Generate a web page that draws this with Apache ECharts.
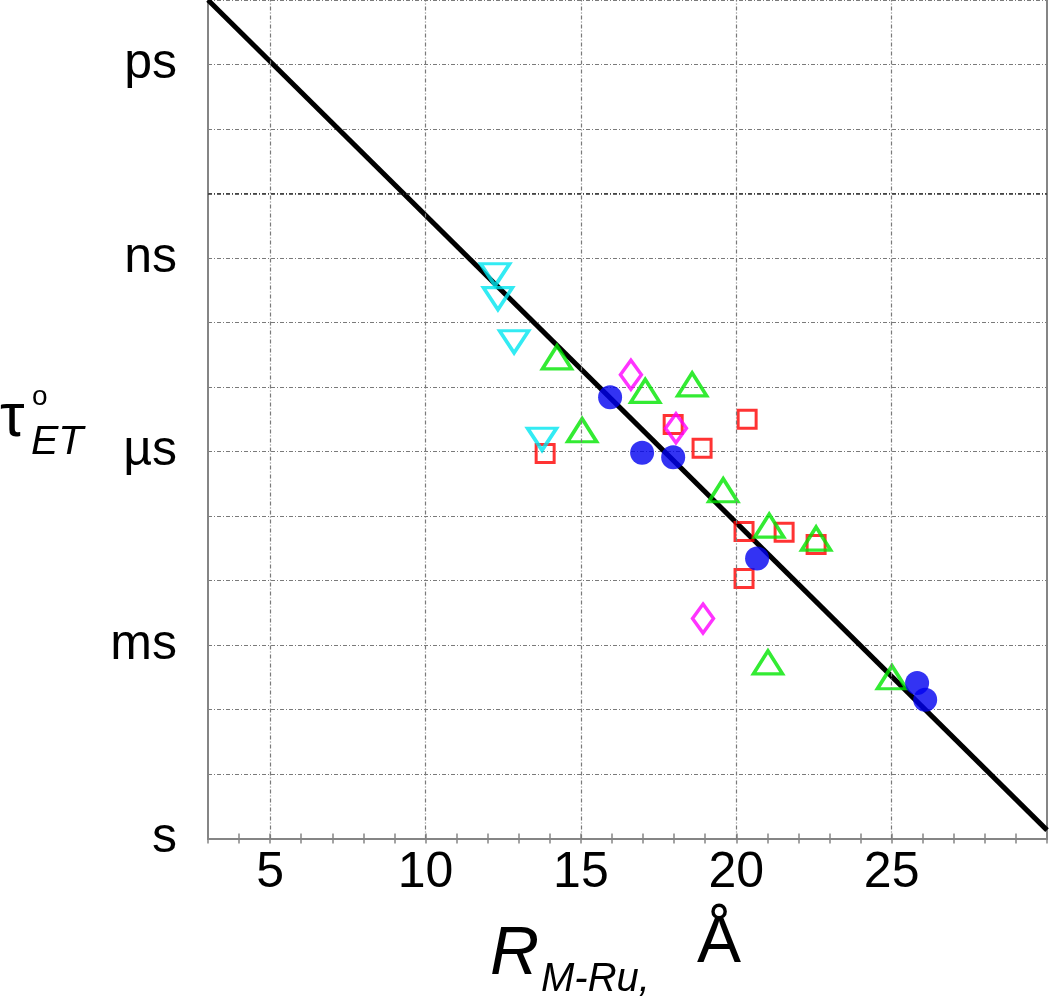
<!DOCTYPE html>
<html>
<head>
<meta charset="utf-8">
<script src="https://cdn.jsdelivr.net/npm/echarts@6/dist/echarts.min.js"></script>
<style>
html,body{margin:0;padding:0;background:#fff;}
#chart{width:1050px;height:999px;}
</style>
</head>
<body>
<div id="chart"></div>
<script>
// ---- data (R in Å, v = -log10(tau / s)) ----
const xTickValues = [5, 10, 15, 20, 25];
const yTickValues = [0, 3, 6, 9, 12];
const yTickLabels = ['s', 'ms', 'µs', 'ns', 'ps'];

const fitR = [3, 30];
const fitV = [13, 0.13];

const cyanR = [12.24, 12.33, 12.85, 13.75];
const cyanV = [8.74, 8.37, 7.70, 6.19];

const greenR = [14.23, 17.07, 18.58, 15.04, 19.58, 21.06, 22.57, 21.02, 25.01];
const greenV = [7.46, 6.94, 7.04, 6.33, 5.40, 4.85, 4.65, 2.73, 2.50];

const blueR = [15.94, 16.97, 17.97, 20.67, 25.82, 26.08];
const blueV = [6.84, 5.98, 5.91, 4.34, 2.41, 2.15];

const magentaR = [16.61, 18.06, 18.93];
const magentaV = [7.19, 6.36, 3.41];

const redR = [13.85, 17.97, 18.90, 20.35, 20.25, 21.54, 22.57, 20.25];
const redV = [5.97, 6.42, 6.05, 6.50, 4.76, 4.75, 4.56, 4.03];

const zip = (a, b) => a.map((v, i) => [v, b[i]]);

const FONT = '"Liberation Sans", Arial, sans-serif';
const AXIS_COLOR = '#858585';
const GRID_STYLE = { color: '#7a7a7a', width: 1.2, type: [4, 2, 1, 2] };

const chart = echarts.init(document.getElementById('chart'), null, { renderer: 'canvas' });

const hollow = (color, w) => ({ color: 'rgba(0,0,0,0)', borderColor: color, borderWidth: w });

chart.setOption({
  animation: false,
  backgroundColor: '#ffffff',
  grid: { left: 208, top: 0, right: 3, bottom: 160.5, containLabel: false },
  xAxis: [
    {
      type: 'value', position: 'bottom', min: 3, max: 30, interval: 1,
      axisLine: { show: true, lineStyle: { color: AXIS_COLOR, width: 2 } },
      axisTick: { show: true, inside: true, length: 5, lineStyle: { color: AXIS_COLOR, width: 1.5 } },
      axisLabel: {
        show: true, margin: 10, fontSize: 50, color: '#000', fontFamily: FONT,
        formatter: (v) => (xTickValues.indexOf(v) >= 0 ? String(v) : '')
      },
      splitLine: { show: false }
    },
    {
      type: 'value', position: 'top', min: 3, max: 30, interval: 1,
      axisLine: { show: true, lineStyle: { color: AXIS_COLOR, width: 2 } },
      axisTick: { show: true, inside: true, length: 5, lineStyle: { color: AXIS_COLOR, width: 1.5 } },
      axisLabel: { show: false },
      splitLine: { show: false }
    }
  ],
  yAxis: [
    {
      type: 'value', position: 'left', min: 0, max: 13, interval: 1,
      axisLine: { show: true, lineStyle: { color: AXIS_COLOR, width: 2 } },
      axisTick: { show: false },
      axisLabel: {
        show: true, margin: 31, fontSize: 50, color: '#000', fontFamily: FONT,
        formatter: (v) => { const i = yTickValues.indexOf(v); return i >= 0 ? yTickLabels[i] : ''; }
      },
      splitLine: { show: true, lineStyle: GRID_STYLE }
    },
    {
      type: 'value', position: 'right', min: 0, max: 13, interval: 1,
      axisLine: { show: true, lineStyle: { color: AXIS_COLOR, width: 2 } },
      axisTick: { show: false },
      axisLabel: { show: false },
      splitLine: { show: false }
    }
  ],
  series: [
    {
      type: 'line', data: [], z: 1, silent: true,
      markLine: {
        silent: true, symbol: 'none', label: { show: false },
        lineStyle: GRID_STYLE,
        data: xTickValues.map(v => ({ xAxis: v })).concat([
          { yAxis: 10, lineStyle: { color: '#333', width: 1.6, type: [4, 2, 1, 2] } }
        ])
      }
    },
    {
      type: 'line', data: zip(fitR, fitV), z: 3, showSymbol: false, symbol: 'none',
      lineStyle: { color: '#000', width: 5 }, silent: true
    },
    {
      type: 'scatter', data: zip(redR, redV), z: 4, symbol: 'rect', symbolSize: 18,
      itemStyle: hollow('#ff0000', 3)
    },
    {
      type: 'scatter', data: zip(greenR, greenV), z: 4, symbol: 'triangle', symbolSize: [29, 23],
      itemStyle: hollow('#00e600', 3.5)
    },
    {
      type: 'scatter', data: zip(cyanR, cyanV), z: 4, symbol: 'triangle', symbolRotate: 180, symbolSize: [29, 22],
      itemStyle: hollow('#00e6f0', 3.5)
    },
    {
      type: 'scatter', data: zip(magentaR, magentaV), z: 4, symbol: 'diamond', symbolSize: [21, 29],
      itemStyle: hollow('#ff00ff', 3.5)
    },
    {
      type: 'scatter', data: zip(blueR, blueV), z: 5, symbol: 'circle', symbolSize: 24,
      itemStyle: { color: '#0000f0' }
    }
  ],
  graphic: [
    { type: 'text', left: 0, top: 388, style: { text: 'τ', font: '62px ' + FONT, fill: '#000' } },
    { type: 'text', left: 32, top: 383, style: { text: 'o', font: '28px ' + FONT, fill: '#000' } },
    { type: 'text', left: 31, top: 422, style: { text: 'ET', font: 'italic 41px ' + FONT, fill: '#000' } },
    { type: 'text', left: 490, top: 921, style: { text: 'R', font: 'italic 68px ' + FONT, fill: '#000' } },
    { type: 'text', left: 541, top: 960, style: { text: 'M-Ru,', font: 'italic 40px ' + FONT, fill: '#000' } },
    { type: 'text', left: 697, top: 911, style: { text: 'Å', font: '66px ' + FONT, fill: '#000' } }
  ]
});
</script>
</body>
</html>
